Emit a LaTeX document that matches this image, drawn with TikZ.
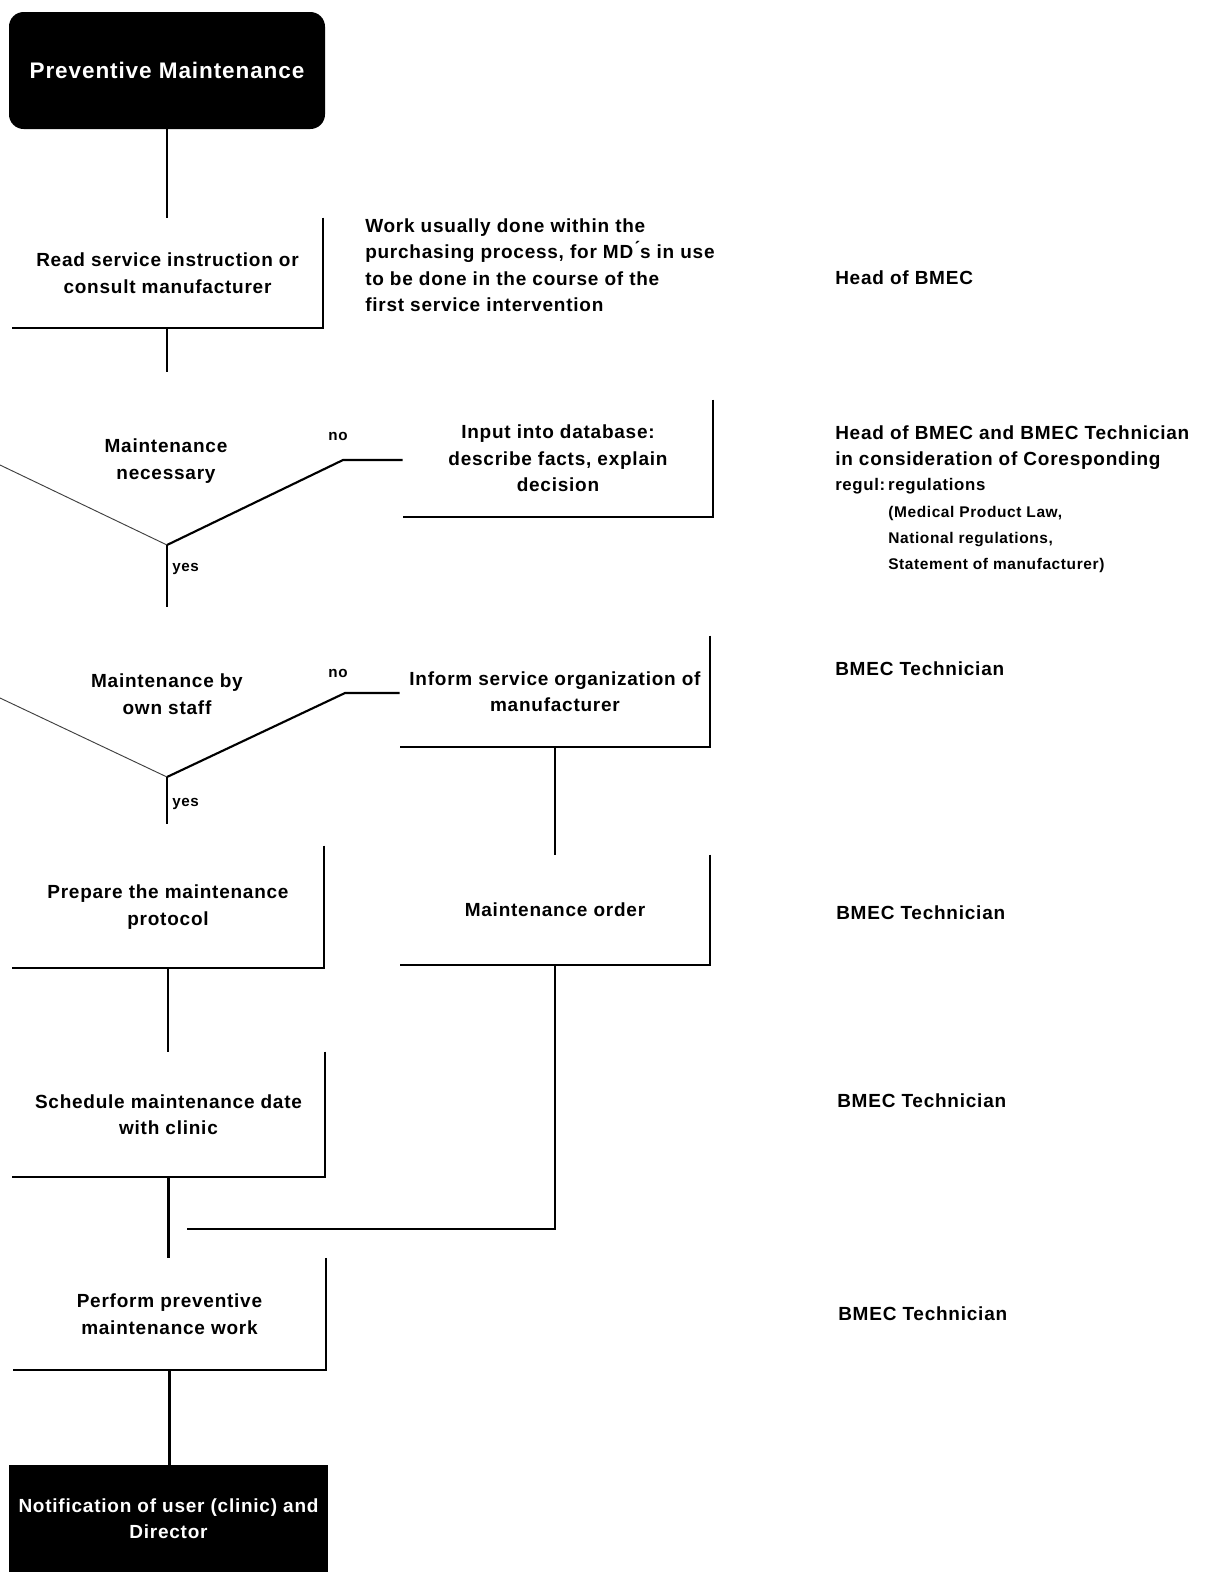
\documentclass[tikz,border=0pt]{standalone}
\usepackage{fontspec}
\setmainfont[LetterSpace=4]{Liberation Sans}
\frenchspacing
\newcommand\pxu{0.75pt}
\tikzset{
  body/.style={font=\fontsize{14.25pt}{19.8pt}\selectfont\bfseries, align=center, inner sep=0pt},
  titletext/.style={font=\fontsize{16.9pt}{19.8pt}\selectfont\bfseries, align=center, inner sep=0pt},
  regultext/.style={font=\fontsize{12.6pt}{19.6pt}\selectfont\bfseries, align=left, inner sep=0pt},
  lawtext/.style={font=\fontsize{11.6pt}{19.5pt}\selectfont\bfseries, align=left, inner sep=0pt},
  tag/.style={font=\fontsize{11.4pt}{13pt}\selectfont\bfseries, inner sep=0pt},
  procbox/.style={body},
  termbox/.style={fill=black, text=white},
  edge/.style={line width=1.2pt, black},
  conn/.style={line width=1.6pt, black},
  vthin/.style={line width=0.7pt, black!75},
}
\begin{document}
\begin{tikzpicture}[x=0.75pt, y=-0.75pt]
\useasboundingbox[fill=white] (0,0) rectangle (1207,1572);

% start and end terminals
\node[termbox, titletext, rounded corners=11pt, minimum width=316*\pxu, minimum height=117*\pxu]
  (start) at (167,70.5) {Preventive Maintenance};
\node[termbox, body, minimum width=319*\pxu, minimum height=107*\pxu]
  (finish) at (168.5,1518.5) {Notification of user (clinic) and\\Director};

% process steps (drawn with right and bottom edges only)
\node[procbox, minimum width=311*\pxu, minimum height=110*\pxu] (b2) at (167.5,273)
  {Read service instruction or\\consult manufacturer};
\node[procbox, minimum width=310*\pxu, minimum height=117*\pxu] (b3) at (558,458.5)
  {Input into database:\\describe facts, explain\\decision};
\node[procbox, minimum width=310*\pxu, minimum height=111*\pxu] (b4) at (555,691.5)
  {Inform service organization of\\manufacturer};
\node[procbox, minimum width=310*\pxu, minimum height=110*\pxu] (b5) at (555,910)
  {Maintenance order};
\node[procbox, minimum width=312*\pxu, minimum height=122*\pxu] (b6) at (168,907)
  {Prepare the maintenance\\protocol};
\node[procbox, minimum width=313*\pxu, minimum height=125*\pxu] (b7) at (168.5,1114.5)
  {Schedule maintenance date\\with clinic};
\node[procbox, minimum width=313*\pxu, minimum height=112*\pxu] (b8) at (169.5,1314)
  {Perform preventive\\maintenance work};

\foreach \b in {b2,b3,b4,b5,b6,b7,b8}
  \draw[edge] (\b.north east) -- (\b.south east) -- (\b.south west);

% decisions
\node[body] (d1) at (166,461) {Maintenance\\necessary};
\coordinate (d1in) at (167,372);
\coordinate (d1v) at (167,545);
\coordinate (d1l) at (0,465);
\coordinate (d1r) at (343,460);
\coordinate (d1out) at (167,607);
\node[tag] (no1) at (338,436) {no};
\node[tag, anchor=west] (yes1) at (172,569) {yes};

\node[body] (d2) at (167,694) {Maintenance by\\own staff};
\coordinate (d2v) at (167,777);
\coordinate (d2l) at (0,698);
\coordinate (d2r) at (345,693);
\coordinate (d2out) at (167,824);
\node[tag] (no2) at (338,673) {no};
\node[tag, anchor=west] (yes2) at (172,804) {yes};

\draw[vthin] (d1l) -- (d1v);
\draw[conn] (d1v) -- (d1r) -- (b3.west |- d1r);
\draw[conn] (d1v) -- (d1out);
\draw[vthin] (d2l) -- (d2v);
\draw[conn] (d2v) -- (d2r) -- (b4.west |- d2r);
\draw[conn] (d2v) -- (d2out);

% connectors
\coordinate (join) at (187,1229);
\draw[conn] (start.south) -- (start.south |- b2.north);
\draw[conn] (d1in |- b2.south) -- (d1in);
\draw[conn] (b6.south) -- (b6.south |- b7.north);
\draw[conn] (b7.south) -- (b7.south |- b8.north);
\draw[conn] (b8.south) -- (b8.south |- finish.north);
\draw[conn] (b4.south) -- (b4.south |- b5.north);
\draw[conn] (b5.south) -- (b5.south |- join) -- (join);

% notes
\node[body, align=left, anchor=north west] (note) at (365,218.5)
  {Work usually done within the\\purchasing process, for MD\'{}s in use\\to be done in the course of the\\first service intervention};

% responsibilities
\node[body, anchor=west] (r1) at (835,278) {Head of BMEC};
\node[body, align=left, anchor=north west] (r2) at (835,425.5)
  {Head of BMEC and BMEC Technician\\in consideration of Coresponding};
\node[regultext, anchor=west] (r3) at (835,486) {regul:\,regulations};
\node[lawtext, anchor=north west] (r4) at (888,506.5)
  {(Medical Product Law,\\National regulations,\\Statement of manufacturer)};
\node[body, anchor=west] (r5) at (835,669) {BMEC Technician};
\node[body, anchor=west] (r6) at (836,913) {BMEC Technician};
\node[body, anchor=west] (r7) at (837,1101) {BMEC Technician};
\node[body, anchor=west] (r8) at (838,1314) {BMEC Technician};
\end{tikzpicture}
\end{document}
